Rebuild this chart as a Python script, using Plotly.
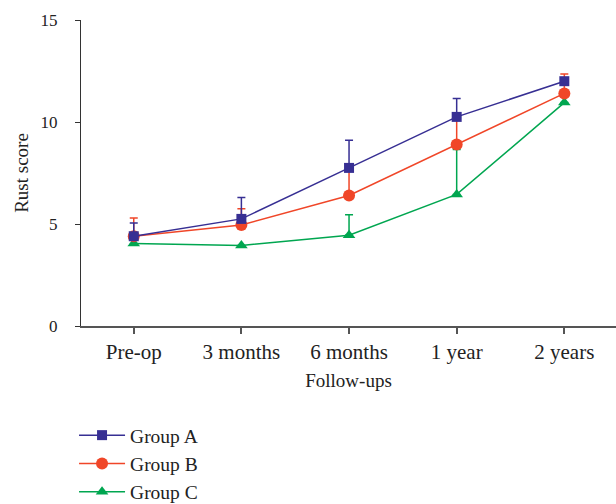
import plotly.graph_objects as go

categories = ["Pre-op", "3 months", "6 months", "1 year", "2 years"]
group_a = [4.4, 5.25, 7.75, 10.25, 12.0]
group_a_err = [0.65, 1.05, 1.35, 0.9, 0.15]
group_b = [4.4, 4.95, 6.4, 8.9, 11.4]
group_b_err = [0.9, 0.8, 1.3, 1.3, 0.95]
group_c = [4.05, 3.95, 4.45, 6.45, 10.95]
group_c_err = [0.0, 0.0, 1.0, 2.2, 0.0]

series = [
    ("Group A", group_a, group_a_err, "#372f93", "square", 10),
    ("Group B", group_b, group_b_err, "#f04628", "circle", 12),
    ("Group C", group_c, group_c_err, "#00a650", "triangle-up", 11),
]

FONT = "Liberation Serif"
fig = go.Figure()
xs = list(range(len(categories)))
for name, vals, err, col, sym, sz in reversed(series):
    fig.add_trace(go.Scatter(
        x=xs, y=vals, name=name, mode="lines+markers",
        line=dict(color=col, width=1.5),
        marker=dict(symbol=sym, size=sz, color=col),
        error_y=dict(type="data", array=err, arrayminus=[0]*len(err),
                     symmetric=False, color=col, thickness=1.5, width=4),
    ))

fig.update_layout(
    width=616, height=504,
    margin=dict(l=81, r=0, t=20, b=178, autoexpand=False),
    paper_bgcolor="white", plot_bgcolor="white",
    font=dict(family=FONT, size=16, color="#222"),
    showlegend=True,
    legend=dict(x=-0.013, y=-0.294, xanchor="left", yanchor="top",
                traceorder="reversed", font=dict(family=FONT, size=19.5),
                itemwidth=46, bgcolor="rgba(0,0,0,0)"),
    xaxis=dict(range=[-0.49, 4.48], tickvals=xs, ticktext=categories,
               tickfont=dict(size=21),
               showgrid=False, zeroline=False, showline=True,
               linecolor="#555", linewidth=2, ticks="outside", ticklen=6,
               tickcolor="#555", tickwidth=2,
               title=dict(text="Follow-ups", standoff=10, font=dict(size=19))),
    yaxis=dict(range=[0, 15], tickvals=[0, 5, 10, 15],
               tickfont=dict(size=17), ticklabelstandoff=14,
               showgrid=False, zeroline=False, showline=True,
               linecolor="#333", linewidth=1.3, ticks="outside", ticklen=5,
               tickcolor="#333", tickwidth=1.3,
               title=dict(text="Rust score", standoff=6, font=dict(size=19))),
)
fig.write_html("out.html", config={"displayModeBar": False},
               post_script="document.body.style.margin='0';")
